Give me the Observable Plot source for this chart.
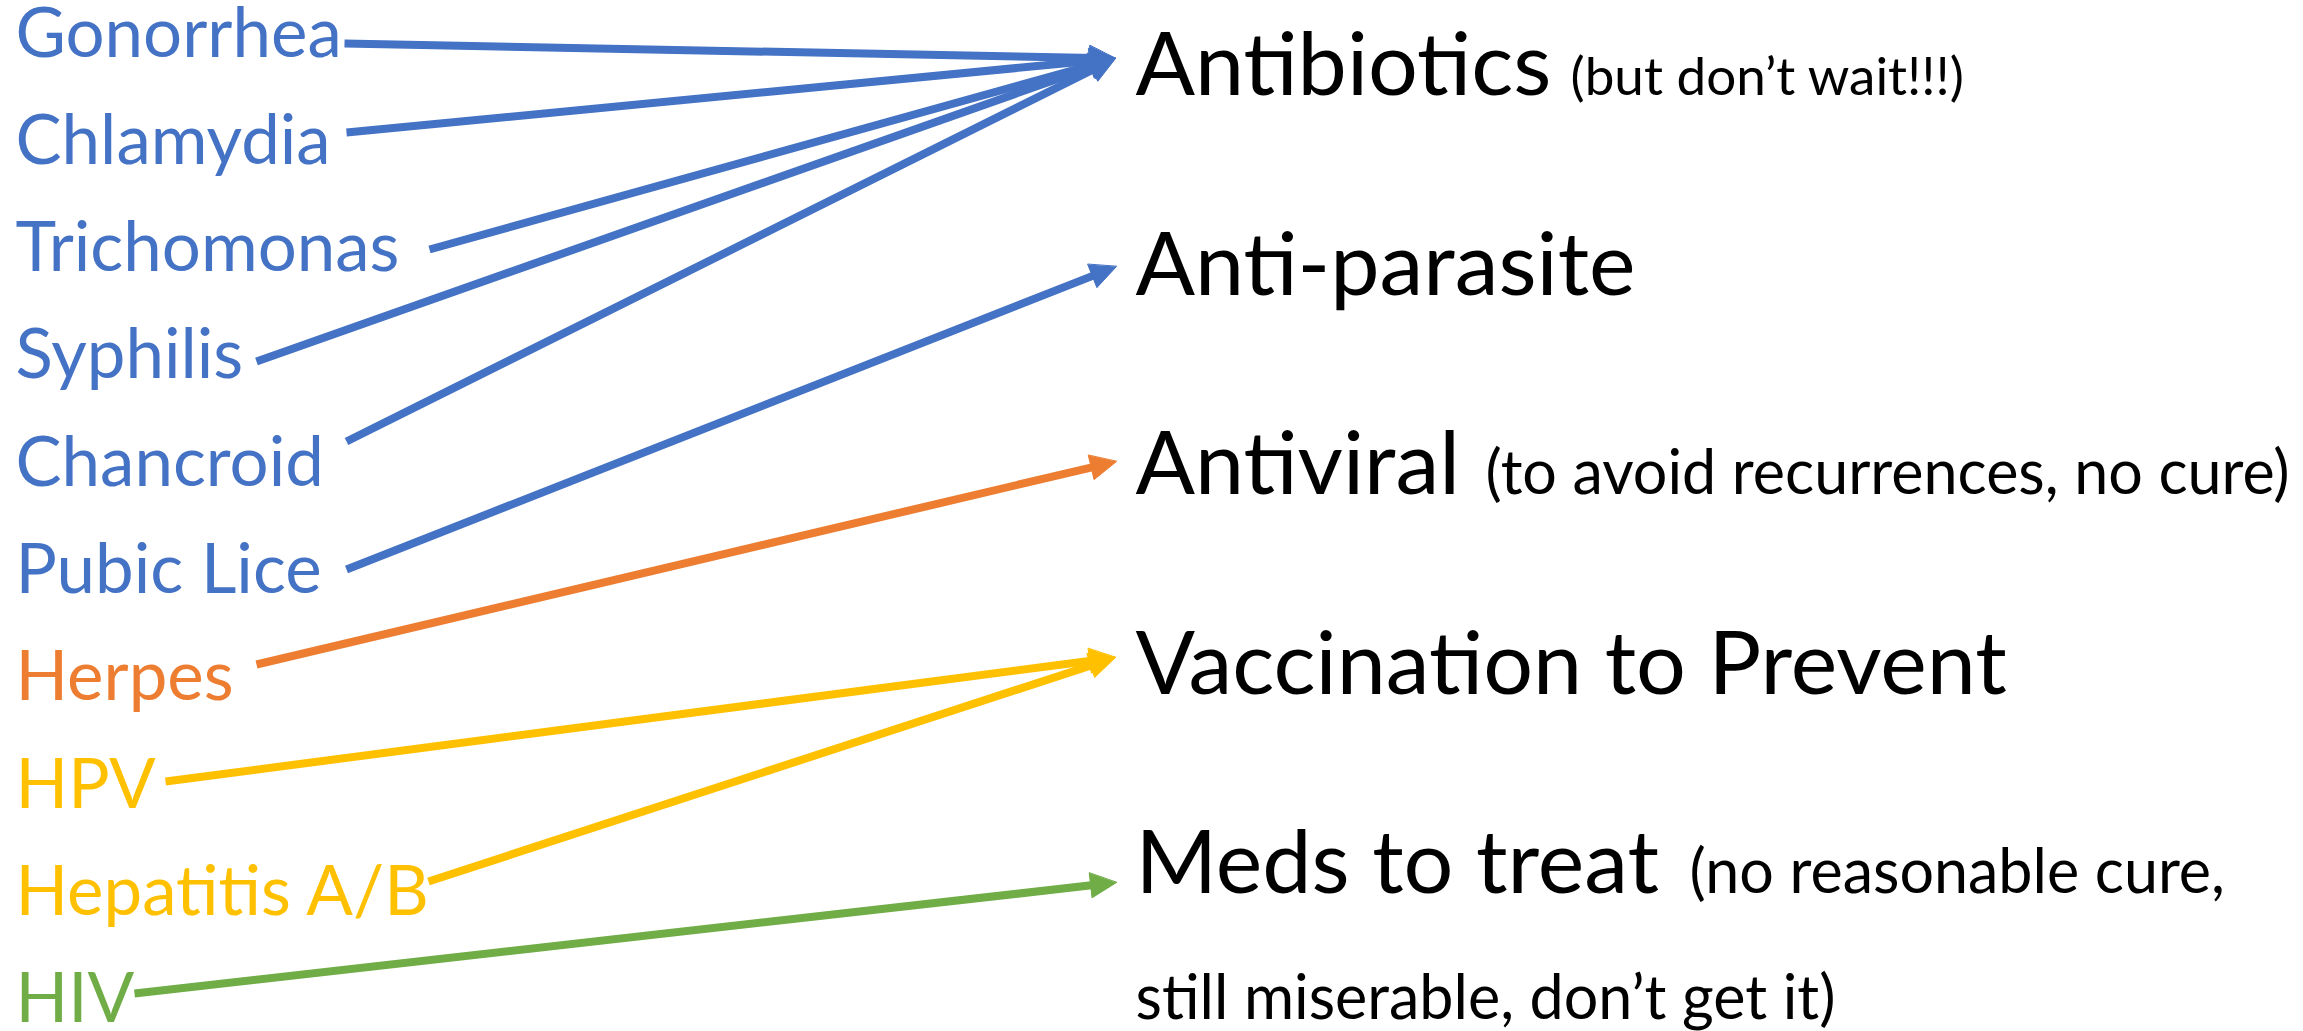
<!DOCTYPE html>
<html>
<head>
<meta charset="utf-8">
<script src="https://cdn.jsdelivr.net/npm/d3@7"></script>
<script src="https://cdn.jsdelivr.net/npm/@observablehq/plot@0.6"></script>
<style>
  html, body { margin: 0; padding: 0; background: #ffffff; }
  #chart svg { display: block; }
</style>
</head>
<body>
<div id="chart"></div>
<script>
// ---------- DATA ----------
const diseases = ["Gonorrhea", "Chlamydia", "Trichomonas", "Syphilis", "Chancroid",
                  "Pubic Lice", "Herpes", "HPV", "Hepatitis A/B", "HIV"];
// index into treatments for each disease
const treatmentOf = [0, 0, 0, 0, 0, 1, 2, 3, 3, 4];
const treatments = ["Antibiotics", "Anti-parasite", "Antiviral", "Vaccination to Prevent", "Meds to treat"];
const treatmentNotes = ["(but don’t wait!!!)", "", "(to avoid recurrences, no cure)", "", "(no reasonable cure,"];
const noteContinuation = "still miserable, don’t get it)";

// ---------- LAYOUT (in picture units) ----------
const W = 2303, H = 1031;
const leftX = 15, leftBaseline0 = 56, leftStep = 107.3;
const rightX = 1135, rightBaseline0 = 94.5, rightStep = 199.6;
const arrowStartX = [344, 346, 429, 256, 346, 346, 256, 165, 428, 134];
const arrowStartY = [43, 132, 249, 361, 441, 569, 664, 781, 881, 993];
const arrowTipX = [1115, 1116, 1116, 1115, 1116];
const arrowTipY = [58, 266, 461, 657, 882];
const noteX = [1570, null, 1485, null, 1689];
const noteContinuationBaseline = 1018;

// ---------- STYLE ----------
const palette = ["#4472C4", "#4472C4", "#ED7D31", "#FFC000", "#70AD47"];
const font = "Lato, 'Open Sans', sans-serif";
const leftSize = 69, mainSize = 88, noteSize = 61, smallNoteSize = 53;
const lineWidth = 8, headLen = 26, headHalf = 12.5;

// ---------- derived tables ----------
const leftLabels = diseases.map((name, i) => ({
  name, x: leftX, y: leftBaseline0 + i * leftStep, color: palette[treatmentOf[i]]
}));
const rightLabels = treatments.map((name, j) => ({
  name, x: rightX, y: rightBaseline0 + j * rightStep
}));
const notes = treatmentNotes.map((t, j) => ({
  text: t, x: noteX[j], y: rightBaseline0 + j * rightStep, size: j === 0 ? smallNoteSize : noteSize
})).filter(d => d.text);
notes.push({text: noteContinuation, x: rightX, y: noteContinuationBaseline, size: noteSize});

const shafts = [], heads = [];
diseases.forEach((name, i) => {
  const j = treatmentOf[i];
  const x0 = arrowStartX[i], y0 = arrowStartY[i];
  const x1 = arrowTipX[j], y1 = arrowTipY[j];
  const len = Math.hypot(x1 - x0, y1 - y0);
  const ux = (x1 - x0) / len, uy = (y1 - y0) / len;
  const px = -uy, py = ux;
  const color = palette[j];
  shafts.push({x0, y0, x1: x1 - ux * headLen * 0.8, y1: y1 - uy * headLen * 0.8, color});
  const bx = x1 - ux * headLen, by = y1 - uy * headLen;
  heads.push({id: name, x: x1, y: y1, color});
  heads.push({id: name, x: bx + px * headHalf, y: by + py * headHalf, color});
  heads.push({id: name, x: bx - px * headHalf, y: by - py * headHalf, color});
});

const chart = Plot.plot({
  width: W,
  height: H,
  margin: 0,
  x: {domain: [0, W], range: [0, W], axis: null},
  y: {domain: [0, H], range: [0, H], axis: null},
  color: {type: "identity"},
  style: {background: "#ffffff", fontFamily: font},
  marks: [
    Plot.link(shafts, {
      x1: "x0", y1: "y0", x2: "x1", y2: "y1",
      stroke: "color", strokeWidth: lineWidth, strokeLinecap: "butt"
    }),
    Plot.line(heads, {
      x: "x", y: "y", z: "id", fill: "color", stroke: "color", strokeWidth: 1,
      curve: "linear-closed"
    }),
    Plot.text(leftLabels, {
      x: "x", y: "y", text: "name", fill: "color",
      fontSize: leftSize, textAnchor: "start", lineAnchor: "bottom"
    }),
    Plot.text(rightLabels, {
      x: "x", y: "y", text: "name", fill: "#000000",
      fontSize: mainSize, textAnchor: "start", lineAnchor: "bottom"
    }),
    ...notes.map(n => Plot.text([n], {
      x: "x", y: "y", text: "text", fill: "#000000",
      fontSize: n.size, textAnchor: "start", lineAnchor: "bottom"
    }))
  ]
});
document.getElementById("chart").appendChild(chart);
</script>
</body>
</html>
